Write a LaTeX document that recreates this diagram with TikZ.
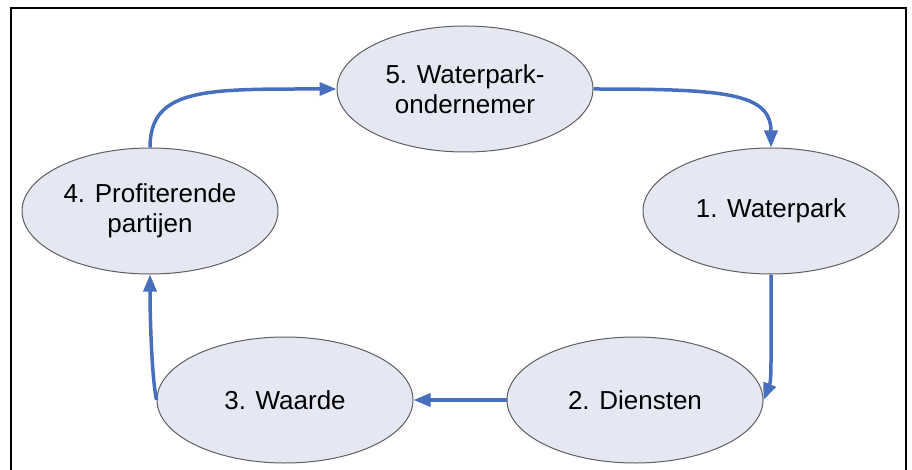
\documentclass[tikz,border=0pt]{standalone}
\usepackage{fontspec}
\setmainfont{Liberation Sans}
\usetikzlibrary{shapes.geometric,arrows.meta}

\definecolor{stapfill}{RGB}{229,232,243}
\definecolor{stapline}{RGB}{95,95,95}
\definecolor{pijlblauw}{RGB}{72,110,190}

\tikzset{
  stap/.style={ellipse,draw=stapline,line width=1pt,fill=stapfill,
    minimum width=256pt,minimum height=126pt,inner sep=0pt,align=center,
    font=\fontsize{26}{30}\selectfont},
  pijl/.style={draw=pijlblauw,line width=3.5pt,
    -{Triangle[length=17pt,width=13pt]}}
}

\begin{document}
\begin{tikzpicture}[x=1pt,y=1pt,yscale=-1,xscale=1]
        \useasboundingbox (0,0) rectangle (912,470);

        %Frame
        \draw [line width=2.5pt] (11,472) -- (11,8) -- (906,8) -- (906,472) ;

        %Shape: Ellipse
        \node [stap] (w5) at (465,89) {5. Waterpark-\\ondernemer};
        %Shape: Ellipse
        \node [stap] (w1) at (771,211) {1. Waterpark};
        %Shape: Ellipse
        \node [stap] (w2) at (635,400) {2. Diensten};
        %Shape: Ellipse
        \node [stap] (w3) at (285,400) {3. Waarde};
        %Shape: Ellipse
        \node [stap] (w4) at (150,211) {4. Profiterende\\partijen};

        %Curve Lines
        \draw [pijl] (w4.north) .. controls +(0,-60) and +(-130,0) .. (w5.west) ;
        %Curve Lines
        \draw [pijl] (w5.east) .. controls +(130,0) and +(0,-55) .. (w1.north) ;
        %Curve Lines
        \draw [pijl] (w1.south) .. controls +(0,90) and +(8,-20) .. (w2.east) ;
        %Straight Lines
        \draw [pijl] (w2.west) -- (w3.east) ;
        %Curve Lines
        \draw [pijl] (w3.west) .. controls +(-5,-25) and +(0,40) .. (w4.south) ;

    \end{tikzpicture}
\end{document}
